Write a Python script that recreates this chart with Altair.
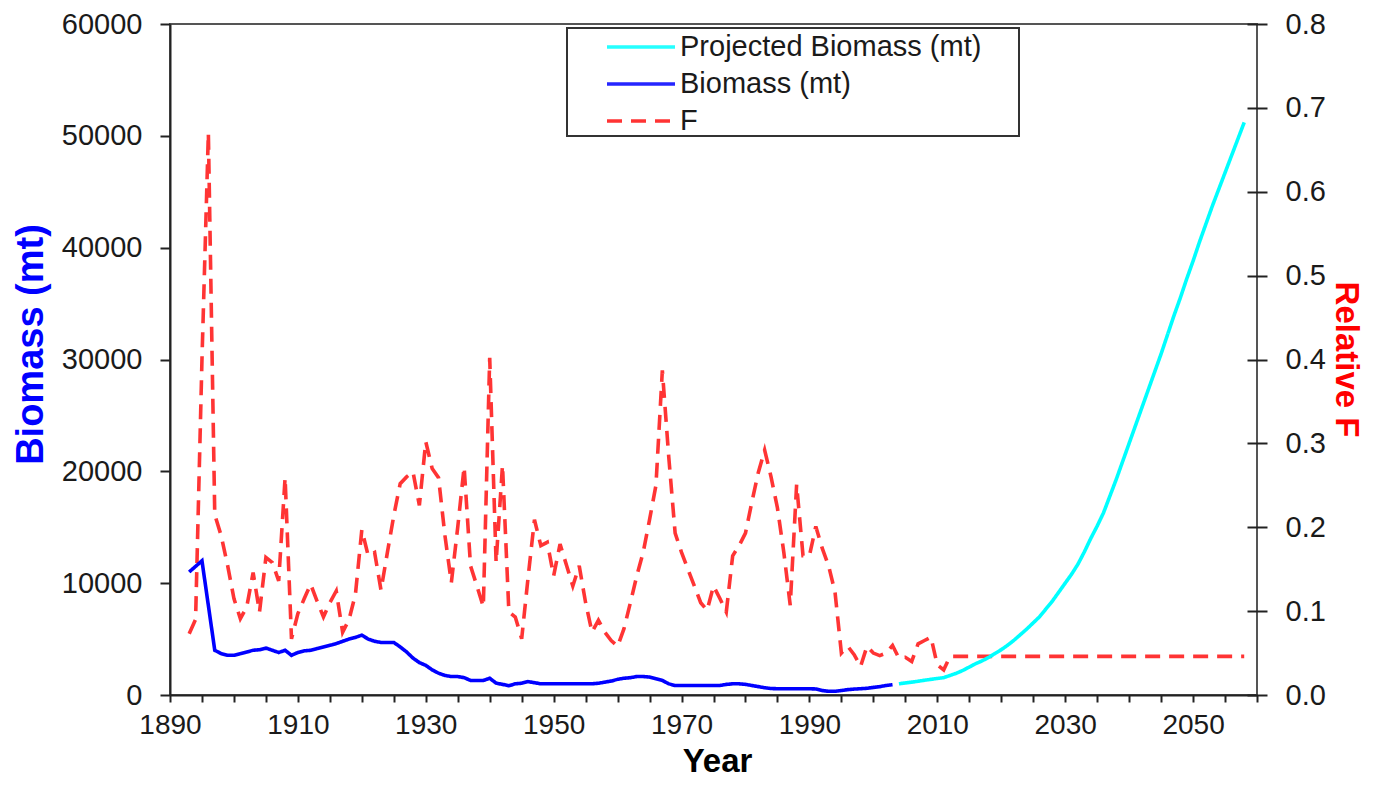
import altair as alt
import pandas as pd

# ---------------- data ----------------
bio_years = list(range(1893, 2004))
biomass = [
    11000, 11500, 12000, 8000, 4000, 3700, 3550, 3550, 3700, 3850,   # 1893-1902
    4000, 4050, 4200, 4000, 3800, 4000, 3550, 3800, 3950, 4000,       # 1903-1912
    4150, 4300, 4450, 4600, 4800, 5000, 5150, 5350, 5000, 4800,       # 1913-1922
    4700, 4700, 4700, 4300, 3850, 3300, 2900, 2650, 2250, 1950,       # 1923-1932
    1750, 1650, 1650, 1550, 1300, 1300, 1300, 1500, 1060, 950,        # 1933-1942
    830, 1000, 1050, 1200, 1100, 1000, 1000, 1000, 1000, 1000,        # 1943-1952
    1000, 1000, 1000, 1000, 1050, 1150, 1250, 1400, 1500, 1550,       # 1953-1962
    1650, 1650, 1600, 1450, 1300, 1000, 850, 850, 850, 850,           # 1963-1972
    850, 850, 850, 850, 950, 1000, 1000, 950, 850, 750,               # 1973-1982
    650, 580, 560, 560, 560, 560, 560, 560, 540, 400,                 # 1983-1992
    330, 330, 400, 480, 530, 560, 600, 680, 750, 850,                 # 1993-2002
    920,                                                              # 2003
]

proj_years = list(range(2004, 2059))
proj_biomass = [
    1000, 1080, 1150, 1230, 1320, 1400, 1480, 1550, 1750, 1950,       # 2004-2013
    2200, 2500, 2800, 3050, 3350, 3700, 4050, 4450, 4900, 5400,       # 2014-2023
    5900, 6450, 7000, 7700, 8400, 9200, 10000, 10800, 11700, 12800,   # 2024-2033
    14000, 15100, 16300, 17800, 19300, 20900, 22500, 24100, 25700, 27300,  # 2034-2043
    28900, 30500, 32200, 33900, 35500, 37200, 38800, 40500, 42100, 43700,  # 2044-2053
    45200, 46700, 48200, 49700, 51200,                                 # 2054-2058
]

f_years = list(range(1893, 2059))
rel_f = [
    0.073, 0.09, 0.40, 0.67, 0.215, 0.19, 0.155, 0.115, 0.091, 0.105,        # 1893-1902
    0.146, 0.099, 0.164, 0.158, 0.136, 0.259, 0.067, 0.097, 0.115, 0.132,    # 1903-1912
    0.112, 0.093, 0.11, 0.124, 0.075, 0.09, 0.12, 0.197, 0.166, 0.17,        # 1913-1922
    0.125, 0.17, 0.214, 0.252, 0.26, 0.266, 0.226, 0.302, 0.27, 0.259,       # 1923-1932
    0.19, 0.134, 0.2, 0.272, 0.154, 0.13, 0.105, 0.402, 0.158, 0.274,        # 1933-1942
    0.099, 0.093, 0.067, 0.14, 0.209, 0.178, 0.182, 0.142, 0.18, 0.155,      # 1943-1952
    0.13, 0.154, 0.11, 0.075, 0.089, 0.075, 0.065, 0.058, 0.079, 0.11,       # 1953-1962
    0.142, 0.17, 0.209, 0.25, 0.387, 0.284, 0.193, 0.17, 0.15, 0.13,         # 1963-1972
    0.11, 0.101, 0.13, 0.115, 0.099, 0.166, 0.178, 0.193, 0.23, 0.265,       # 1973-1982
    0.292, 0.26, 0.223, 0.17, 0.107, 0.251, 0.166, 0.166, 0.201, 0.175,      # 1983-1992
    0.154, 0.123, 0.05, 0.058, 0.048, 0.034, 0.058, 0.05, 0.047, 0.05,       # 1993-2002
    0.059, 0.044, 0.045, 0.04, 0.061, 0.065, 0.069, 0.036, 0.03, 0.046,      # 2003-2012
    0.046, 0.046, 0.046, 0.046, 0.046, 0.046, 0.046, 0.046, 0.046, 0.046,    # 2013-2022
    0.046, 0.046, 0.046, 0.046, 0.046, 0.046, 0.046, 0.046, 0.046, 0.046,    # 2023-2032
    0.046, 0.046, 0.046, 0.046, 0.046, 0.046, 0.046, 0.046, 0.046, 0.046,    # 2033-2042
    0.046, 0.046, 0.046, 0.046, 0.046, 0.046, 0.046, 0.046, 0.046, 0.046,    # 2043-2052
    0.046, 0.046, 0.046, 0.046, 0.046, 0.046,                                # 2053-2058
]

series_domain = ["Projected Biomass (mt)", "Biomass (mt)", "F"]
series_colors = ["#00FFFF", "#0000FF", "#FF1010"]
series_dash = [[1, 0], [1, 0], [15, 9]]
series_width = [3.6, 3.6, 1.8]

x_ticks = list(range(1890, 2061, 5))
left_ticks = [0, 10000, 20000, 30000, 40000, 50000, 60000]
right_ticks = [0.0, 0.1, 0.2, 0.3, 0.4, 0.5, 0.6, 0.7, 0.8]

# ---------------- tables ----------------
bio_df = pd.DataFrame({
    "Year": bio_years + proj_years,
    "Biomass": biomass + proj_biomass,
    "series": ["Biomass (mt)"] * len(bio_years) + ["Projected Biomass (mt)"] * len(proj_years),
})
f_df = pd.DataFrame({"Year": f_years, "F": rel_f, "series": ["F"] * len(f_years)})

FONT = "Liberation Sans"
PLOT_H = 671

# invisible title on the right of the legend entries gives the frame its right margin
leg = alt.Legend(title="\u00a0", titleOrient="right", titlePadding=38, titleFontSize=10)

color = alt.Color("series:N", scale=alt.Scale(domain=series_domain, range=series_colors), legend=leg)
dash = alt.StrokeDash("series:N", scale=alt.Scale(domain=series_domain, range=series_dash), legend=leg)
swidth = alt.StrokeWidth("series:N", scale=alt.Scale(domain=series_domain, range=series_width), legend=leg)

x_enc = alt.X(
    "Year:Q",
    scale=alt.Scale(domain=[1890, 2060], nice=False, zero=False),
    axis=alt.Axis(
        values=x_ticks,
        format="d",
        labelExpr="datum.value % 20 == 10 ? datum.label : ''",
        labelOverlap=False,
        labelFlush=False,
        labelFontSize=28,
        tickSize=7,
        labelPadding=9,
        title="Year",
        titleFontSize=33,
        titleX=547,
        titleY=76,
        titleBaseline="alphabetic",
    ),
)

f_layer = alt.Chart(f_df).mark_line(opacity=0.85).encode(
    x=x_enc,
    y=alt.Y(
        "F:Q",
        scale=alt.Scale(domain=[0, 0.8], nice=False),
        axis=alt.Axis(
            orient="right",
            values=right_ticks,
            format=".1f",
            offset=-10,
            tickSize=20,
            domain=False,
            labelPadding=18,
            title="Relative F",
            titleColor="#FF0000",
            titleFontSize=33,
            titleAngle=90,
            titleX=98,
            titleY=335,
            titleBaseline="middle",
        ),
    ),
    color=color,
    strokeDash=dash,
    strokeWidth=swidth,
)

bio_layer = alt.Chart(bio_df).mark_line().encode(
    x=x_enc,
    y=alt.Y(
        "Biomass:Q",
        scale=alt.Scale(domain=[0, 60000], nice=False),
        axis=alt.Axis(
            orient="left",
            values=left_ticks,
            format="d",
            tickSize=10,
            labelPadding=18,
            title="Biomass (mt)",
            titleColor="#0000FF",
            titleFontSize=38,
            titleAngle=-90,
            titleX=-139,
            titleY=320,
            titleBaseline="middle",
        ),
    ),
    color=color,
    strokeDash=dash,
    strokeWidth=swidth,
)

chart = (
    alt.layer(f_layer, bio_layer)
    .resolve_scale(y="independent")
    .properties(
        width=1087,
        height=PLOT_H,
        autosize=alt.AutoSizeParams(type="none"),
        padding={"left": 162, "top": 16, "right": 108, "bottom": 82},
        background="white",
    )
    .configure_view(stroke="#555555", strokeWidth=2)
    .configure_axis(
        grid=False,
        labelFont=FONT,
        labelFontSize=29,
        labelColor="#1a1a1a",
        titleFont=FONT,
        titleFontWeight="bold",
        domainColor="#222222",
        domainWidth=2,
        tickColor="#222222",
        tickWidth=2,
    )
    .configure_legend(
        orient="none",
        legendX=397,
        legendY=4,
        padding=0,
        strokeColor="#333333",
        strokeWidth=2,
        fillColor="white",
        labelFont=FONT,
        labelFontSize=29,
        labelColor="#1a1a1a",
        labelLimit=800,
        symbolType="M-2,0L2,0",
        symbolSize=1156,
        symbolOffset=55,
        labelOffset=20,
        rowPadding=3,
    )
)

chart.save("out.html", embed_options={"renderer": "svg", "actions": False})
